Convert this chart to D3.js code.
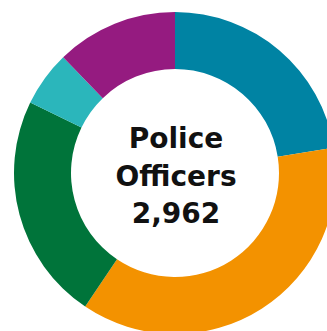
<!DOCTYPE html>
<html>
<head>
<meta charset="utf-8">
<script src="https://cdn.jsdelivr.net/npm/d3@7"></script>
<style>
  body { margin: 0; background: #fff; }
  svg { display: block; }
</style>
</head>
<body>
<div id="chart"></div>
<script>
// slices, clockwise from 12 o'clock
var categories = ["Group A", "Group B", "Group C", "Group D", "Group E"];
var officers = [666, 1094, 675, 165, 362];
var colors = ["#0083a3", "#f39200", "#00743a", "#2bb6bb", "#951b80"];
var centerLines = ["Police", "Officers", "2,962"];

// dimensions
var width = 327, height = 331;
var cx = 175, cy = 173;
var outer = 161, inner = 104;

var svg = d3.select("#chart")
  .append("svg")
    .attr("width", width)
    .attr("height", height);

var g = svg.append("g")
    .attr("transform", "translate(" + cx + "," + cy + ")");

var pie = d3.pie().sort(null).value(function (d) { return d; });
var arc = d3.arc().innerRadius(inner).outerRadius(outer);

var color = d3.scaleOrdinal().domain(categories).range(colors);

g.selectAll("path")
    .data(pie(officers))
  .enter().append("path")
    .attr("d", arc)
    .attr("fill", function (d, i) { return color(categories[i]); });

// centre label
g.append("text")
    .attr("text-anchor", "middle")
    .attr("font-family", "DejaVu Sans, sans-serif")
    .attr("font-weight", "bold")
    .attr("font-size", 28)
    .attr("fill", "#111")
  .selectAll("tspan")
    .data(centerLines)
  .enter().append("tspan")
    .attr("x", 1)
    .attr("y", function (d, i) { return -25 + i * 37.5; })
    .text(function (d) { return d; });
</script>
</body>
</html>
